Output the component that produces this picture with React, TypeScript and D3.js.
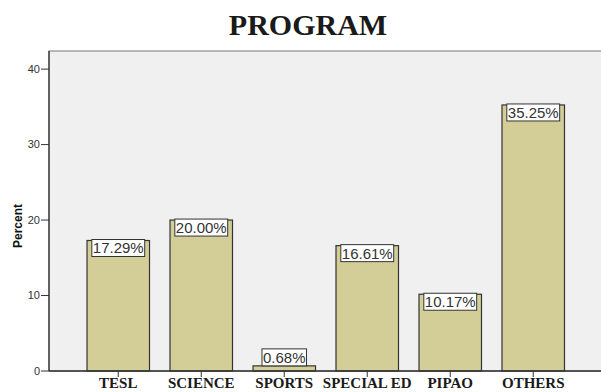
import React from "react";
import * as d3 from "d3";

const categories = ["TESL", "SCIENCE", "SPORTS", "SPECIAL ED", "PIPAO", "OTHERS"];
const percents = [17.29, 20.0, 0.68, 16.61, 10.17, 35.25];
const labels = ["17.29%", "20.00%", "0.68%", "16.61%", "10.17%", "35.25%"];
const yTicks = [0, 10, 20, 30, 40];

const W = 601;
const H = 392;
const plotLeft = 49;
const plotTop = 51;
const plotBottom = 371;
const plotRight = 602.5;

export default function App() {
  const x = d3
    .scaleBand<string>()
    .domain(categories)
    .range([plotLeft, plotRight])
    .paddingInner(0.247)
    .paddingOuter(0.458);
  const y = d3.scaleLinear().domain([0, 42.4]).range([plotBottom, plotTop]);
  const bw = x.bandwidth();

  const measure = (s: string) => {
    // approximate Arial widths at 15px
    let w = 0;
    for (const c of s) {
      if (c === ".") w += 0.278;
      else if (c === "%") w += 0.889;
      else w += 0.556;
    }
    return w * 15;
  };

  return (
    <svg
      width={W}
      height={H}
      style={{ position: "absolute", left: 0, top: 0, background: "#fff" }}
    >
      <text
        x={308}
        y={35}
        textAnchor="middle"
        fontFamily="'Liberation Serif', 'Times New Roman', serif"
        fontWeight="bold"
        fontSize={30}
        fill="#1a1a1a"
      >
        PROGRAM
      </text>
      <rect
        x={plotLeft}
        y={plotTop}
        width={plotRight - plotLeft + 5}
        height={plotBottom - plotTop}
        fill="#f0f0f0"
        stroke="#777"
        strokeWidth={1}
      />
      {categories.map((c, i) => {
        const x0 = x(c)!;
        const yTop = y(percents[i]);
        return (
          <rect
            key={c}
            x={x0}
            y={yTop}
            width={bw}
            height={plotBottom - yTop}
            fill="#d3ce97"
            stroke="#333"
            strokeWidth={1.2}
          />
        );
      })}
      {/* axes */}
      <line x1={plotLeft} x2={plotLeft} y1={plotTop} y2={plotBottom} stroke="#333" strokeWidth={1.3} />
      <line x1={plotLeft} x2={W} y1={plotBottom} y2={plotBottom} stroke="#333" strokeWidth={1.3} />
      {yTicks.map((t) => (
        <g key={t}>
          <line x1={41} x2={plotLeft} y1={y(t)} y2={y(t)} stroke="#333" strokeWidth={1} />
          <text
            x={40}
            y={y(t)}
            dy="0.35em"
            textAnchor="end"
            fontFamily="'Liberation Sans', Arial, sans-serif"
            fontSize={11}
            fill="#333"
          >
            {t}
          </text>
        </g>
      ))}
      <text
        transform={`translate(22, ${(plotTop + plotBottom) / 2 + 15}) rotate(-90)`}
        textAnchor="middle"
        fontFamily="'Liberation Sans', Arial, sans-serif"
        fontWeight="bold"
        fontSize={12}
        fill="#111"
      >
        Percent
      </text>
      {categories.map((c) => {
        const cx = x(c)! + bw / 2;
        return (
          <g key={c}>
            <line x1={cx} x2={cx} y1={plotBottom} y2={plotBottom + 6} stroke="#333" strokeWidth={1} />
            <text
              x={cx}
              y={388}
              textAnchor="middle"
              fontFamily="'Liberation Serif', 'Times New Roman', serif"
              fontWeight="bold"
              fontSize={15}
              fill="#1a1a1a"
            >
              {c}
            </text>
          </g>
        );
      })}
      {categories.map((c, i) => {
        const cx = x(c)! + bw / 2;
        const yTop = y(percents[i]);
        const tw = measure(labels[i]) + 2;
        const bh = 17;
        const by = plotBottom - yTop < bh + 2 ? yTop - bh : yTop - 1;
        return (
          <g key={"l" + c}>
            <rect
              x={cx - tw / 2}
              y={by}
              width={tw}
              height={bh}
              fill="#fff"
              stroke="#333"
              strokeWidth={1}
            />
            <text
              x={cx}
              y={by + bh / 2}
              dy="0.36em"
              textAnchor="middle"
              fontFamily="'Liberation Sans', Arial, sans-serif"
              fontSize={15}
              fill="#333"
            >
              {labels[i]}
            </text>
          </g>
        );
      })}
    </svg>
  );
}
